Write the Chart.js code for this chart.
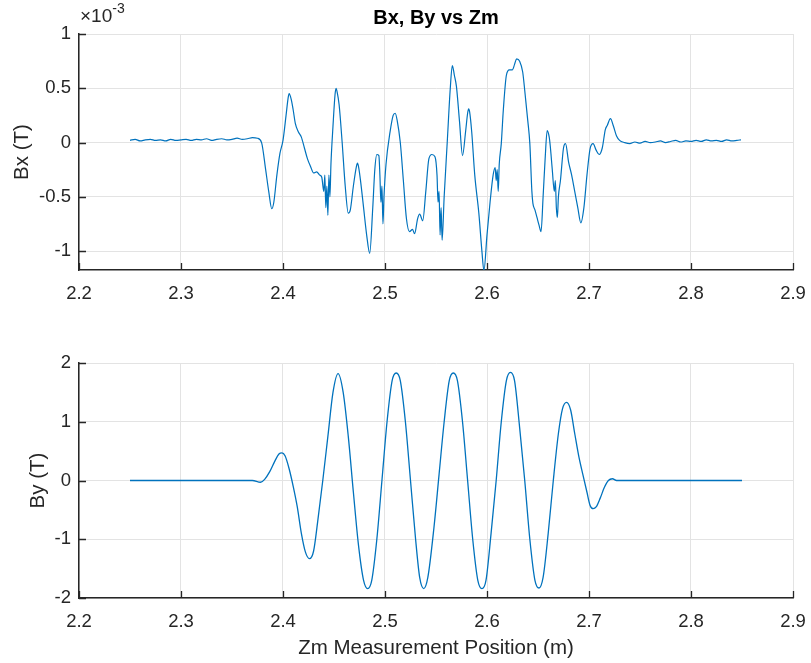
<!DOCTYPE html>
<html>
<head>
<meta charset="utf-8">
<script src="https://cdn.jsdelivr.net/npm/chart.js@4.4.1/dist/chart.umd.min.js"></script>
<style>
html, body { margin: 0; padding: 0; background: #fff; }
#wrap { position: relative; width: 811px; height: 663px; }
.box { position: absolute; left: 0; width: 811px; }
</style>
</head>
<body>
<div id="wrap">
  <div class="box" style="top:0;height:300px"><canvas id="bxChart"></canvas></div>
  <div class="box" style="top:330px;height:333px"><canvas id="byChart"></canvas></div>
</div>
<script>
// Bx values are in units of 1e-3 T (axis shows x10^-3)
const zBx = [2.25, 2.255, 2.26, 2.265, 2.27, 2.275, 2.28, 2.285, 2.29, 2.295, 2.30, 2.305, 2.31,
  2.315, 2.32, 2.325, 2.33, 2.335, 2.34, 2.345, 2.35, 2.355, 2.36, 2.365, 2.37, 2.375,
  2.379, 2.383, 2.386, 2.389, 2.391, 2.394, 2.397, 2.400, 2.403, 2.405, 2.406, 2.408, 2.410, 2.412,
  2.415, 2.418, 2.421, 2.424, 2.427, 2.430, 2.433, 2.436, 2.438, 2.440, 2.441, 2.442, 2.443, 2.444,
  2.445, 2.446, 2.447, 2.449, 2.451, 2.452, 2.453, 2.455, 2.458, 2.461, 2.464, 2.466, 2.469, 2.472,
  2.473, 2.474, 2.476, 2.479, 2.482, 2.485, 2.488, 2.490, 2.492, 2.494, 2.495, 2.496, 2.497, 2.498,
  2.499, 2.501, 2.505, 2.508, 2.510, 2.512, 2.515, 2.518, 2.521, 2.524, 2.527, 2.529, 2.532, 2.534,
  2.537, 2.540, 2.543, 2.546, 2.549, 2.551, 2.552, 2.553, 2.554, 2.555, 2.556, 2.558, 2.561, 2.564,
  2.566, 2.568, 2.570, 2.573, 2.576, 2.579, 2.581, 2.582, 2.583, 2.585, 2.588, 2.592, 2.595, 2.597,
  2.600, 2.603, 2.606, 2.608, 2.609, 2.610, 2.611, 2.612, 2.614, 2.616, 2.619, 2.622, 2.625, 2.627,
  2.629, 2.632, 2.635, 2.637, 2.640, 2.642, 2.644, 2.645, 2.647, 2.649, 2.651, 2.653, 2.655, 2.657,
  2.659, 2.661, 2.662, 2.664, 2.666, 2.667, 2.668, 2.669, 2.670, 2.672, 2.675, 2.677, 2.680, 2.683,
  2.686, 2.689, 2.692, 2.695, 2.698, 2.701, 2.704, 2.707, 2.710, 2.713, 2.716, 2.718, 2.721, 2.724,
  2.727, 2.730, 2.735, 2.74, 2.745, 2.75, 2.755, 2.76, 2.765, 2.77, 2.775, 2.78, 2.785, 2.79, 2.795,
  2.80, 2.805, 2.81, 2.815, 2.82, 2.825, 2.83, 2.835, 2.84, 2.845, 2.849];
const bx = [0.02, 0.03, 0.015, 0.025, 0.03, 0.02, 0.025, 0.015, 0.03, 0.02, 0.025, 0.03, 0.02,
  0.03, 0.025, 0.035, 0.02, 0.03, 0.035, 0.025, 0.03, 0.04, 0.03, 0.035, 0.045, 0.04,
  0.0, -0.25, -0.45, -0.61, -0.55, -0.3, -0.1, 0.02, 0.25, 0.41, 0.45, 0.4, 0.3, 0.18,
  0.10, 0.05, -0.05, -0.15, -0.22, -0.28, -0.27, -0.3, -0.32, -0.45, -0.3, -0.6, -0.4, -0.67,
  -0.3, -0.5, -0.2, 0.15, 0.44, 0.5, 0.47, 0.35, 0.0, -0.4, -0.65, -0.62, -0.4, -0.22,
  -0.19, -0.22, -0.35, -0.6, -0.85, -1.02, -0.6, -0.25, -0.11, -0.12, -0.3, -0.55, -0.4, -0.75,
  -0.5, -0.2, 0.1, 0.25, 0.27, 0.2, 0.0, -0.35, -0.7, -0.82, -0.8, -0.84, -0.7, -0.66,
  -0.72, -0.45, -0.15, -0.11, -0.13, -0.3, -0.55, -0.45, -0.85, -0.6, -0.9, -0.5, 0.0, 0.5,
  0.71, 0.62, 0.52, 0.2, -0.12, 0.1, 0.27, 0.31, 0.28, 0.1, -0.3, -0.65, -1.0, -1.18,
  -0.85, -0.55, -0.3, -0.23, -0.35, -0.25, -0.45, -0.2, -0.01, 0.3, 0.62, 0.67, 0.67, 0.72,
  0.77, 0.75, 0.65, 0.48, 0.2, -0.01, -0.45, -0.56, -0.62, -0.69, -0.76, -0.82, -0.5, -0.15,
  0.11, 0.05, -0.03, -0.25, -0.45, -0.35, -0.6, -0.69, -0.5, -0.35, -0.05, -0.01, -0.18, -0.3,
  -0.45, -0.6, -0.74, -0.6, -0.3, -0.06, -0.01, -0.07, -0.11, -0.05, 0.12, 0.16, 0.22, 0.15,
  0.06, 0.02, 0.0, -0.01, 0.005, -0.005, 0.01, 0.0, 0.005, 0.015, 0.0, 0.01, 0.02, 0.005, 0.015,
  0.01, 0.02, 0.01, 0.025, 0.015, 0.02, 0.01, 0.025, 0.015, 0.02, 0.025];

const zBy = [2.25, 2.37, 2.378, 2.382, 2.387, 2.392, 2.396, 2.399, 2.402, 2.406, 2.410, 2.414, 2.418,
  2.422, 2.426, 2.430, 2.434, 2.439, 2.444, 2.449, 2.454, 2.459, 2.464, 2.469, 2.474, 2.479, 2.483,
  2.487, 2.492, 2.497, 2.502, 2.507, 2.511, 2.515, 2.520, 2.525, 2.530, 2.534, 2.538, 2.542, 2.548,
  2.553, 2.558, 2.563, 2.567, 2.571, 2.576, 2.581, 2.586, 2.591, 2.595, 2.599, 2.604, 2.609, 2.614,
  2.619, 2.623, 2.627, 2.632, 2.637, 2.642, 2.647, 2.651, 2.655, 2.660, 2.665, 2.670, 2.674, 2.678,
  2.682, 2.686, 2.690, 2.694, 2.698, 2.701, 2.704, 2.707, 2.711, 2.715, 2.719, 2.723, 2.727, 2.85];
const by = [0, 0, -0.03, 0.02, 0.15, 0.33, 0.45, 0.47, 0.42, 0.2, -0.1, -0.45, -0.9,
  -1.22, -1.33, -1.2, -0.7, 0.0, 0.75, 1.5, 1.82, 1.5, 0.75, -0.2, -1.1, -1.7, -1.84,
  -1.7, -1.0, 0.0, 1.0, 1.7, 1.83, 1.7, 1.0, 0.0, -1.0, -1.65, -1.84, -1.65, -0.8,
  0.1, 1.0, 1.7, 1.83, 1.7, 1.0, 0.0, -1.0, -1.7, -1.84, -1.7, -0.9, 0.0, 1.0,
  1.7, 1.84, 1.7, 0.9, 0.0, -1.0, -1.7, -1.83, -1.65, -0.9, 0.0, 0.8, 1.22, 1.33,
  1.2, 0.8, 0.41, 0.1, -0.2, -0.42, -0.48, -0.45, -0.3, -0.12, 0.0, 0.03, 0.0, 0];

const zTicks = [2.2, 2.3, 2.4, 2.5, 2.6, 2.7, 2.8, 2.9];
const bxTicks = [-1, -0.5, 0, 0.5, 1];
const byTicks = [-2, -1, 0, 1, 2];

const ink = '#262626';
const lineBlue = '#0072BD';
Chart.defaults.font.family = '"Liberation Sans", Arial, Helvetica, sans-serif';
Chart.defaults.color = ink;

// MATLAB-like inward tick marks, plus title and exponent text
const matlabAxes = {
  id: 'matlabAxes',
  afterDraw(chart, args, opts) {
    const ctx = chart.ctx;
    const a = chart.chartArea;
    const x = chart.scales.x, y = chart.scales.y;
    ctx.save();
    ctx.strokeStyle = ink;
    ctx.lineWidth = 1.3;
    ctx.beginPath();
    x.ticks.forEach(t => {
      const px = Math.round(x.getPixelForValue(t.value)) + 0.5;
      ctx.moveTo(px, a.bottom);
      ctx.lineTo(px, a.bottom - 7);
    });
    y.ticks.forEach(t => {
      const py = Math.round(y.getPixelForValue(t.value)) + 0.5;
      ctx.moveTo(a.left, py);
      ctx.lineTo(a.left + 7, py);
    });
    ctx.stroke();
    ctx.fillStyle = '#000';
    if (opts.title) {
      ctx.font = 'bold 20px "Liberation Sans", Arial, sans-serif';
      ctx.textAlign = 'center';
      ctx.textBaseline = 'alphabetic';
      ctx.fillText(opts.title, (a.left + a.right) / 2, 24);
    }
    if (opts.exponent) {
      ctx.fillStyle = ink;
      ctx.textAlign = 'left';
      ctx.textBaseline = 'alphabetic';
      ctx.font = '19px "Liberation Sans", Arial, sans-serif';
      ctx.fillText('\u00d710', a.left + 1, 22);
      const w = ctx.measureText('\u00d710').width;
      ctx.font = '14px "Liberation Sans", Arial, sans-serif';
      ctx.fillText(opts.exponent, a.left + 1 + w, 13);
    }
    ctx.restore();
  }
};

function makeOptions(cfg) {
  return {
    responsive: true,
    maintainAspectRatio: false,
    animation: false,
    layout: { padding: { top: cfg.padTop, right: 18, left: 0, bottom: 0 } },
    plugins: {
      legend: { display: false },
      tooltip: { enabled: false },
      matlabAxes: { title: cfg.title, exponent: cfg.exponent }
    },
    elements: { point: { radius: 0 } },
    scales: {
      x: {
        type: 'linear',
        min: 2.2,
        max: 2.9,
        afterBuildTicks: s => { s.ticks = zTicks.map(v => ({ value: v })); },
        afterFit: s => { s.height = cfg.xHeight; s.paddingLeft = 0; s.paddingRight = 0; },
        ticks: {
          font: { size: 18.5 },
          color: ink,
          padding: 13,
          maxRotation: 0,
          callback: v => v.toFixed(1)
        },
        grid: { color: '#e3e3e3', lineWidth: 1, drawTicks: false },
        border: { display: true, color: ink, width: 1.5 },
        title: {
          display: !!cfg.xTitle,
          text: cfg.xTitle || '',
          font: { size: 20.5 },
          color: ink,
          padding: { top: 0, bottom: 2 }
        }
      },
      y: {
        min: cfg.yMin,
        max: cfg.yMax,
        afterBuildTicks: s => { s.ticks = cfg.yTicks.map(v => ({ value: v })); },
        afterFit: s => { s.width = 79; s.paddingTop = 0; s.paddingBottom = 0; },
        ticks: {
          font: { size: 18.5 },
          color: ink,
          padding: 8,
          callback: v => String(v)
        },
        grid: { color: '#e3e3e3', lineWidth: 1, drawTicks: false },
        border: { display: true, color: ink, width: 1.5 },
        title: {
          display: true,
          text: cfg.yTitle,
          font: { size: 20.5 },
          color: ink,
          padding: { top: cfg.yTitlePad, bottom: 0 }
        }
      }
    }
  };
}

new Chart(document.getElementById('bxChart'), {
  type: 'line',
  data: {
    datasets: [{
      data: zBx.map((z, i) => ({ x: z, y: bx[i] })),
      borderColor: lineBlue,
      borderWidth: 1.2,
      cubicInterpolationMode: 'monotone',
      fill: false
    }]
  },
  options: makeOptions({
    padTop: 34, xHeight: 30, yMin: -1.174, yMax: 1, yTicks: bxTicks,
    yTitle: 'Bx (T)', yTitlePad: 10, title: 'Bx, By vs Zm', exponent: '-3'
  }),
  plugins: [matlabAxes]
});

new Chart(document.getElementById('byChart'), {
  type: 'line',
  data: {
    datasets: [{
      data: zBy.map((z, i) => ({ x: z, y: by[i] })),
      borderColor: lineBlue,
      borderWidth: 1.3,
      cubicInterpolationMode: 'monotone',
      fill: false
    }]
  },
  options: makeOptions({
    padTop: 33, xHeight: 65, yMin: -2, yMax: 2, yTicks: byTicks,
    yTitle: 'By (T)', yTitlePad: 26, xTitle: 'Zm Measurement Position (m)'
  }),
  plugins: [matlabAxes]
});
</script>
</body>
</html>
